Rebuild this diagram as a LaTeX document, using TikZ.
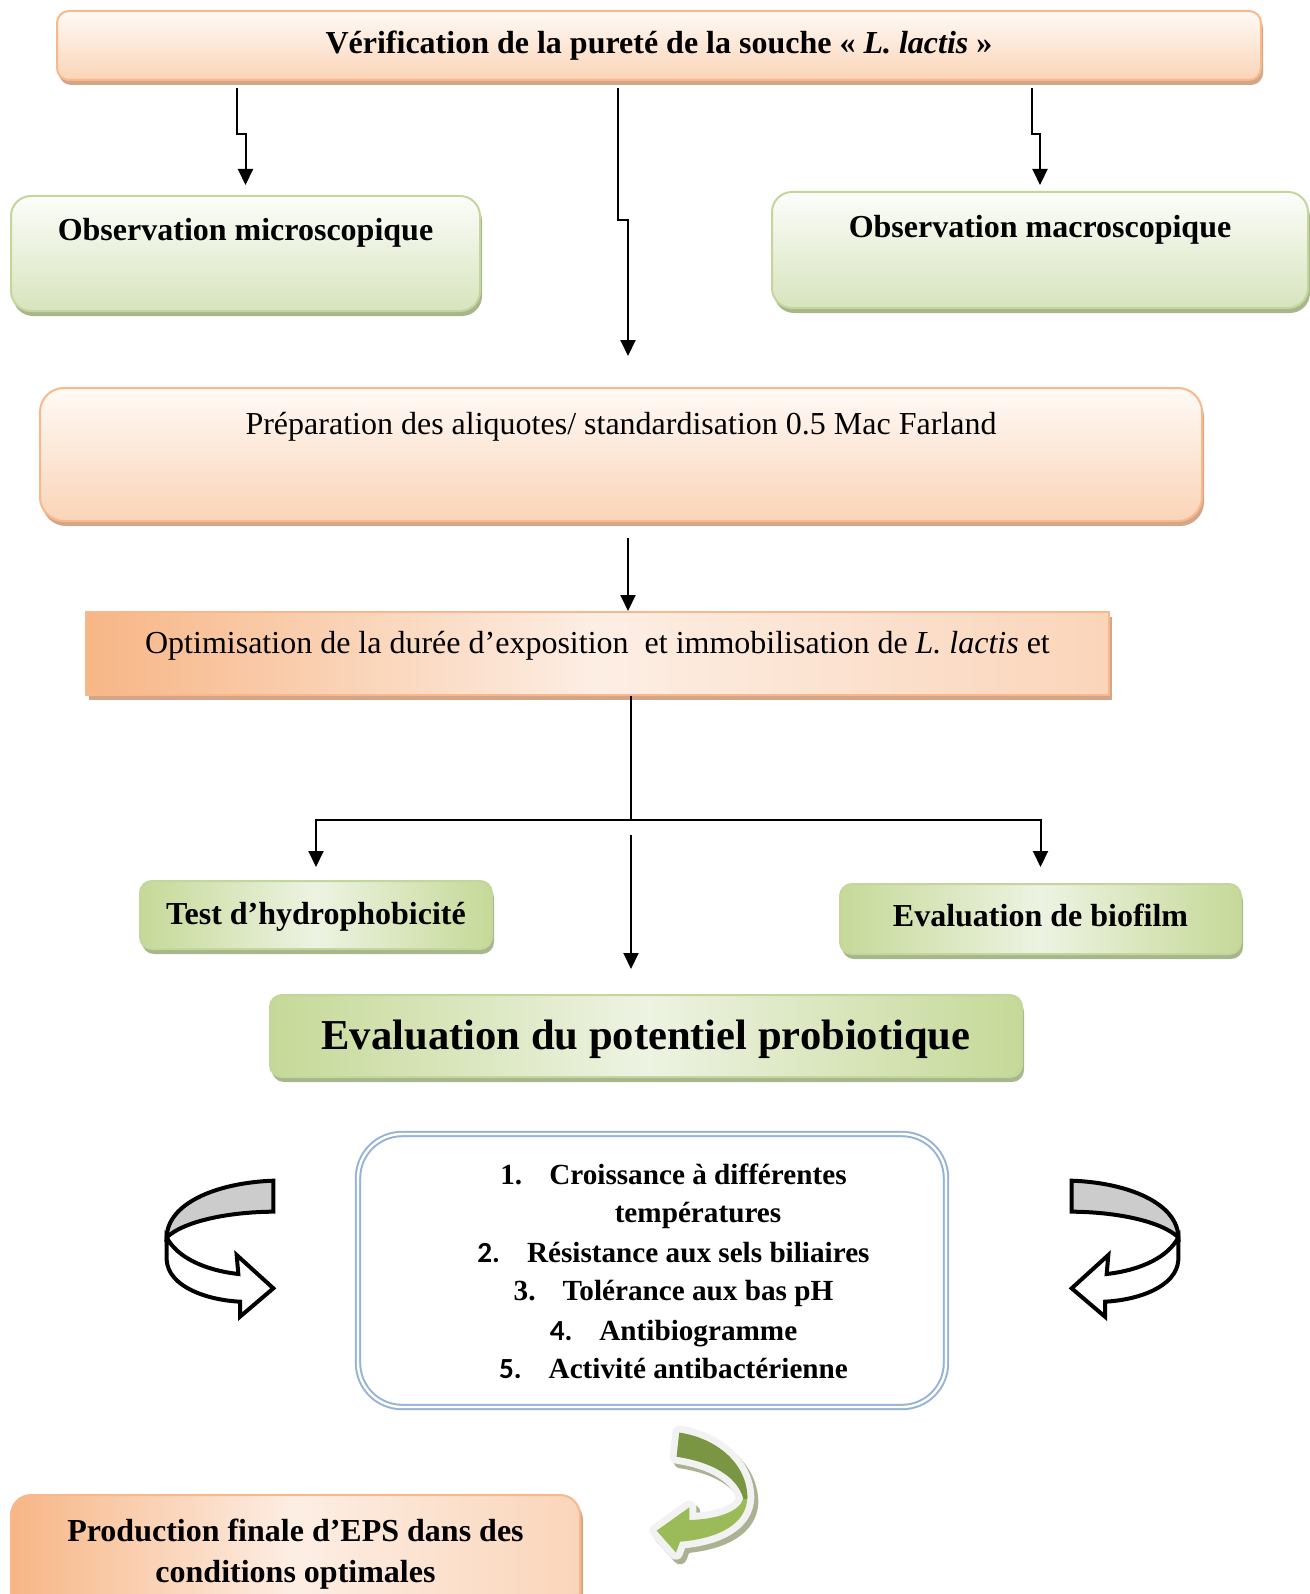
\documentclass[tikz,border=0pt]{standalone}
\usepackage{fontspec}
\setmainfont{Liberation Serif}
\newfontfamily\numfont{Carlito}
\usepackage{tikz}
\usetikzlibrary{
	arrows.meta,
	calc,
	positioning,
	shadows
}
\definecolor{OrangeEdge}{RGB}{248,184,140}
\definecolor{OrangeLow}{RGB}{250,212,183}
\definecolor{OrangeTop}{RGB}{255,250,246}
\definecolor{OrangeDeep}{RGB}{247,182,134}
\definecolor{OrangePale}{RGB}{253,238,228}
\definecolor{OrangeShade}{RGB}{212,165,134}
\definecolor{GreenEdge}{RGB}{195,214,155}
\definecolor{GreenLow}{RGB}{215,228,189}
\definecolor{GreenTop}{RGB}{252,253,250}
\definecolor{GreenDeep}{RGB}{198,217,152}
\definecolor{GreenPale}{RGB}{237,243,226}
\definecolor{GreenShade}{RGB}{168,182,140}
\definecolor{ListEdge}{RGB}{149,179,215}
\definecolor{CurlGray}{RGB}{204,204,204}
\definecolor{LeafDark}{RGB}{122,150,66}
\definecolor{LeafLight}{RGB}{155,187,89}
\definecolor{LeafRim}{RGB}{242,242,242}
\definecolor{LeafShade}{RGB}{170,178,146}

% curled arrows, drawn in 3x local units
\newcommand{\curlband}{(400,92) .. controls (230,98) and (82,160) .. (80,262) .. controls (130,215) and (260,186) .. (400,185) -- cycle}
\newcommand{\curlhead}{(80,262) -- (80,330) .. controls (85,410) and (200,450) .. (300,455) -- (300,500) -- (400,415) -- (290,315) -- (295,372) .. controls (190,360) and (110,320) .. (80,262) -- cycle}
\newcommand{\leafpath}{(238,68) .. controls (350,85) and (440,160) .. (442,262) .. controls (440,340) and (360,385) .. (240,395) -- (228,428) -- (170,362) -- (268,292) -- (268,330) .. controls (350,328) and (420,305) .. (430,265) .. controls (410,195) and (330,155) .. (230,140) -- cycle}

\tikzset{
	flow/.style={-{Triangle[width=7.5pt,length=8pt]}, line width=1pt},
	box/.style={anchor=north west, inner sep=0pt, line width=1pt},
	peachbox/.style={box, draw=OrangeEdge, top color=OrangeTop, bottom color=OrangeLow,
		drop shadow={shadow xshift=1pt, shadow yshift=-2.5pt, fill=OrangeShade, opacity=1}},
	peachband/.style={box, draw=OrangeEdge, left color=OrangeDeep, right color=OrangeDeep!45!OrangePale, middle color=OrangePale,
		drop shadow={shadow xshift=1.5pt, shadow yshift=-2.5pt, fill=OrangeShade, opacity=1}},
	mintbox/.style={box, draw=GreenEdge, top color=GreenTop, bottom color=GreenLow,
		drop shadow={shadow xshift=1pt, shadow yshift=-2.5pt, fill=GreenShade, opacity=1}},
	mintband/.style={box, draw=GreenEdge, left color=GreenDeep, right color=GreenDeep, middle color=GreenPale,
		drop shadow={shadow xshift=1pt, shadow yshift=-2.5pt, fill=GreenShade, opacity=1}},
	boldtxt/.style={font=\fontsize{16}{20.5}\selectfont\bfseries},
	plaintxt/.style={font=\fontsize{16}{20.5}\selectfont},
	item/.style={anchor=base, inner sep=0pt, font=\fontsize{14.6}{17}\selectfont\bfseries},
	curl/.style={draw=black, line width=2pt, line join=miter}
}

\begin{document}
\begin{tikzpicture}[x=0.5pt, y=-0.5pt]
\useasboundingbox (0,0) rectangle (1310,1594);

% top row
\node[peachbox, boldtxt, rounded corners=6pt, minimum width=602pt, text height=21.5pt, text depth=13pt] (verif) at (56,10)
	{Vérification de la pureté de la souche « \textit{L. lactis} »};
\node[mintbox, boldtxt, rounded corners=10pt, minimum width=234.5pt, text height=22.5pt, text depth=35pt] (micro) at (10,195)
	{Observation microscopique};
\node[mintbox, boldtxt, rounded corners=10pt, minimum width=268pt, text height=23pt, text depth=35pt] (macro) at (771,191)
	{Observation macroscopique};

% preparation
\node[peachbox, plaintxt, rounded corners=12pt, minimum width=581pt, text height=23pt, text depth=43.5pt] (prep) at (39,387)
	{Préparation des aliquotes/ standardisation 0.5 Mac Farland};
\node[peachband, plaintxt, minimum width=511.5pt, text height=20.5pt, text depth=21pt] (optim) at (85,611)
	{Optimisation de la durée d’exposition\ \ et immobilisation de \textit{L. lactis} et};

\draw[flow] ($(verif.south -| micro.north)+(-9,7)$) -- ++(0,46) -- ++(9,0) -- ($(micro.north)+(0,-10)$);
\draw[flow] ($(verif.south)+(-41,7)$) -- ++(0,132) -- ++(10,0) -- ($(prep.north)+(7,-31)$);
\draw[flow] ($(verif.south -| macro.north)+(-8,7)$) -- ++(0,46) -- ++(8,0) -- ($(macro.north)+(0,-6)$);
\coordinate (prepout) at ($(prep.south)+(7,16)$);
\draw[flow] (prepout) -- (prepout |- optim.north);

% tests
\coordinate (split) at (631,820);
\node[mintband, boldtxt, rounded corners=6pt, minimum width=176pt, text height=21.5pt, text depth=12.5pt] (test) at (139,880)
	{Test d’hydrophobicité};
\node[mintband, boldtxt, rounded corners=6pt, minimum width=200.5pt, text height=21pt, text depth=14pt] (biofilm) at (839,883)
	{Evaluation de biofilm};
\node[mintband, font=\fontsize{21.3}{25}\selectfont\bfseries, rounded corners=6pt, minimum width=376pt, text height=27pt, text depth=14pt] (probio) at (269,994)
	{Evaluation du potentiel probiotique};

\draw[line width=1pt] (optim.south -| split) -- (split);
\draw[flow] (split) -| ($(test.north)+(0,-13)$);
\draw[flow] (split) -| ($(biofilm.north)+(0,-16)$);
\draw[flow] ($(split)+(0,15)$) -- ($(split |- probio.north)+(0,-25)$);

% list of tests
\node[box, draw=ListEdge, double=white, double distance=1.2pt, line width=1pt, fill=white, rounded corners=22pt,
	minimum width=294pt, minimum height=136.5pt] (list) at (357,1133) {};
\node[item] (item1) at (673.5,1184) {1.\hspace{13.5pt}Croissance à différentes};
\node[item] (item1b) at (698,1222) {températures};
\node[item] (item2) at (673.5,1262) {{\numfont 2.}\hspace{13.5pt}Résistance aux sels biliaires};
\node[item] (item3) at (673.5,1300) {3.\hspace{13.5pt}Tolérance aux bas pH};
\node[item] (item4) at (673.5,1340) {{\numfont 4.}\hspace{13.5pt}Antibiogramme};
\node[item] (item5) at (673.5,1378) {{\numfont 5.}\hspace{13.5pt}Activité antibactérienne};

% curled arrows
\begin{scope}[shift={(140,1150)}, x=0.16667pt, y=-0.16667pt]
	\draw[curl, fill=white] \curlhead;
	\draw[curl, fill=CurlGray] \curlband;
\end{scope}
\begin{scope}[shift={(1205,1150)}, x=-0.16667pt, y=-0.16667pt]
	\draw[curl, fill=white] \curlhead;
	\draw[curl, fill=CurlGray] \curlband;
\end{scope}
\begin{scope}[shift={(600,1410)}, x=0.16667pt, y=-0.16667pt, line join=round]
	\filldraw[LeafShade, line width=7pt, shift={(12,14)}] \leafpath;
	\filldraw[LeafRim, line width=7pt] \leafpath;
	\fill[LeafLight] \leafpath;
	\begin{scope}
		\clip (0,0) rectangle (540,265);
		\fill[LeafDark] \leafpath;
	\end{scope}
\end{scope}

% final step
\node[peachband, boldtxt, rounded corners=10pt, minimum width=284.5pt, inner ysep=12pt, align=center] (prod) at (10,1494)
	{Production finale d’EPS dans des\\conditions optimales};
\end{tikzpicture}
\end{document}
